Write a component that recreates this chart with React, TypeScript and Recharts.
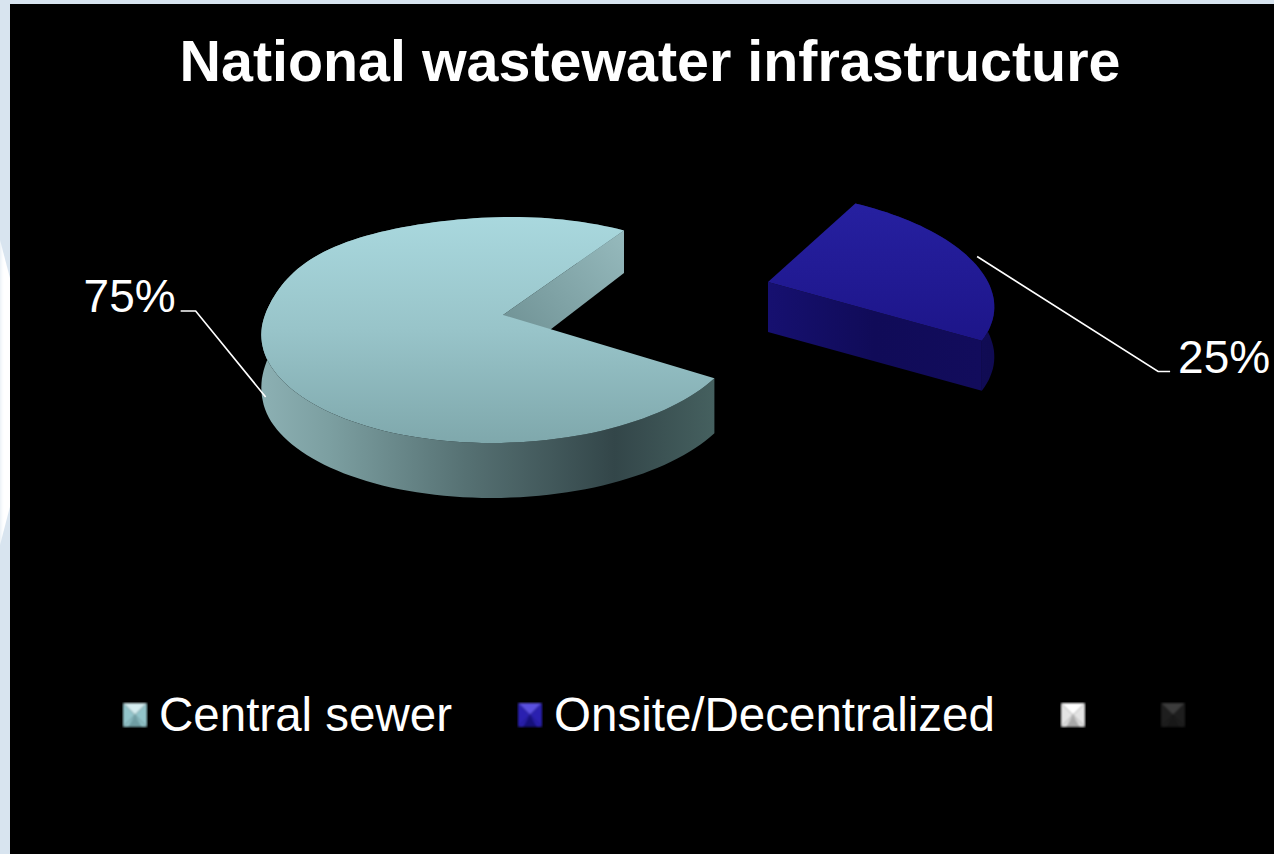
import React from "react";
import { PieChart, Pie, Cell, Legend } from "recharts";

const categories = ["Central sewer", "Onsite/Decentralized", "", ""];
const shares = [75, 25, 0, 0];
const chartData = categories.map((name, i) => ({ name, value: shares[i] }));

// Styling, one entry per category
const legendTones = [
  { top: "#d4ecef", side: "#93c5cb", bottom: "#6f9da3" },
  { top: "#5a50e0", side: "#2a20b0", bottom: "#15107a" },
  { top: "#ffffff", side: "#e4e4e4", bottom: "#a8a8a8" },
  { top: "#3c3c3c", side: "#1e1e1e", bottom: "#181818" },
];
const sliceFills = ["#a0ccd2", "#221a9a", "#ffffff", "#333333"];

// 3D projection of each exploded slice
const projections = [
  { dx: 0, dy: 0, ax: 1, by: 111, skew: -10, bulge: 12, depth: 51, depthTilt: 10, depthMax: 55, top: "url(#topA)", side: "url(#sideA)", wall: "url(#wallA)" },
  { dx: 265, dy: -33, ax: 220 / 238, by: 103, skew: 23, bulge: 0, depth: 50, depthTilt: 0, depthMax: 50, top: "url(#topB)", side: "url(#sideB)", wall: "url(#wallB)" },
];
const PERSPECTIVE = 0.1327;

const leaders = [
  { attach: [4, 3], useDepth: true, elbow: [-70, -86], end: [-85, -86], text: [-90, -85], anchor: "end" },
  { attach: [6, -3], useDepth: false, elbow: [181, 115], end: [193, 115], text: [201, 116], anchor: "start" },
];

type Pt = [number, number];

function rimPoint(cx: number, cy: number, r: number, angle: number, k: number): Pt {
  const p = projections[k];
  const t = (angle * Math.PI) / 180;
  const u = Math.cos(t);
  const v = Math.sin(t);
  const f = 1 / (1 + PERSPECTIVE * v);
  const norm = ((angle % 360) + 360) % 360;
  const bulge = norm > 90 && norm < 180 ? p.bulge * Math.pow(Math.sin(2 * (t - Math.PI / 2)), 2) : 0;
  return [cx + p.dx + (r * p.ax * u - p.skew * v) * f - bulge, cy + p.dy - p.by * v * f];
}

function depthAt(angle: number | null, k: number): number {
  const p = projections[k];
  if (angle === null) return p.depth;
  const v = Math.sin((angle * Math.PI) / 180);
  return Math.min(p.depthMax, p.depth - p.depthTilt * v);
}

const toPath = (pts: Pt[]) => "M" + pts.map((q) => `${q[0].toFixed(1)},${q[1].toFixed(1)}`).join("L") + "Z";

function Slice3D(props: any) {
  const { cx, cy, outerRadius, startAngle, endAngle, index } = props;
  if (startAngle === endAngle || index > 1) return <g />;
  const p = projections[index];
  const apex: Pt = [cx + p.dx, cy + p.dy];
  const arc: number[] = [];
  const step = endAngle > startAngle ? 2 : -2;
  for (let a = startAngle; step > 0 ? a < endAngle : a > endAngle; a += step) arc.push(a);
  arc.push(endAngle);
  const rim = arc.map((a) => rimPoint(cx, cy, outerRadius, a, index));
  const rimLow = arc.map((a, i) => [rim[i][0], rim[i][1] + depthAt(a, index)] as Pt);
  const apexLow: Pt = [apex[0], apex[1] + depthAt(null, index)];
  return (
    <g style={{ filter: "blur(0.7px)" }}>
      <path d={toPath([...rim, ...[...rimLow].reverse()])} fill={p.side} />
      <path d={toPath([apex, rim[0], rimLow[0], apexLow])} fill={p.wall} />
      <path d={toPath([apex, ...rim])} fill={p.top} />
    </g>
  );
}

function SliceLabel(props: any) {
  const { cx, cy, outerRadius, midAngle, index, value } = props;
  if (!value || index > 1) return null;
  const l = leaders[index];
  const r = rimPoint(cx, cy, outerRadius, midAngle, index);
  const a: Pt = [r[0] + l.attach[0], r[1] + l.attach[1] + (l.useDepth ? depthAt(midAngle, index) : 0)];
  return (
    <g>
      <polyline
        points={`${a[0]},${a[1]} ${a[0] + l.elbow[0]},${a[1] + l.elbow[1]} ${a[0] + l.end[0]},${a[1] + l.end[1]}`}
        fill="none"
        stroke="#ffffff"
        strokeWidth={1.6}
      />
      <text
        x={a[0] + l.text[0]}
        y={a[1] + l.text[1]}
        textAnchor={l.anchor as any}
        fill="#ffffff"
        fontFamily="Liberation Sans"
        fontSize={46}
      >
        {`${value}%`}
      </text>
    </g>
  );
}

function LegendMark({ tone }: { tone: (typeof legendTones)[number] }) {
  return (
    <svg width={26} height={26} style={{ display: "block", flex: "none" }}>
      <g style={{ filter: "blur(0.8px)" }}>
        <polygon points="1,1 25,1 13,13" fill={tone.top} />
        <polygon points="1,1 13,13 1,25" fill={tone.side} />
        <polygon points="25,1 13,13 25,25" fill={tone.side} />
        <polygon points="1,25 13,13 25,25" fill={tone.side} />
        <polygon points="6,25 13,13 20,25" fill={tone.bottom} />
      </g>
    </svg>
  );
}

function LegendRow({ payload }: any) {
  return (
    <div style={{ display: "flex", alignItems: "center", gap: 65, whiteSpace: "nowrap" }}>
      {(payload || []).map((item: any, i: number) => (
        <div key={i} style={{ display: "flex", alignItems: "center", gap: item.value ? 11 : 9 }}>
          <LegendMark tone={legendTones[i]} />
          <span style={{ color: "#ffffff", fontFamily: "Liberation Sans", fontSize: 47.5, lineHeight: "54px" }}>
            {item.value}
          </span>
        </div>
      ))}
    </div>
  );
}

export default function App() {
  return (
    <div style={{ position: "fixed", left: 0, top: 0, width: 1274, height: 854, overflow: "hidden", background: "#d8e4ef" }}>
      <div
        style={{
          position: "absolute",
          left: 0,
          top: 230,
          width: 40,
          height: 325,
          background: "#ffffff",
          clipPath: "polygon(0 10px, 100% 162px, 0 315px)",
          filter: "blur(2px)",
        }}
      />
      <div style={{ position: "absolute", left: 10, top: 4, right: 0, bottom: 0, background: "#000000" }} />
      <div style={{ position: "absolute", left: 0, top: 0 }}>
        <PieChart width={1274} height={854} margin={{ top: 0, right: 0, bottom: 0, left: 0 }}>
          <defs>
            <linearGradient id="topA" x1="0" y1="0" x2="0" y2="1">
              <stop offset="0" stopColor="#a9d8de" />
              <stop offset="0.5" stopColor="#98c4c9" />
              <stop offset="1" stopColor="#7fa8ac" />
            </linearGradient>
            <linearGradient id="sideA" x1="0" y1="0" x2="1" y2="0">
              <stop offset="0" stopColor="#8cb0b3" />
              <stop offset="0.15" stopColor="#7c9fa1" />
              <stop offset="0.45" stopColor="#567173" />
              <stop offset="0.78" stopColor="#334649" />
              <stop offset="1" stopColor="#45605f" />
            </linearGradient>
            <linearGradient id="wallA" x1="1" y1="0" x2="0" y2="1">
              <stop offset="0" stopColor="#96babd" />
              <stop offset="1" stopColor="#6a8c8f" />
            </linearGradient>
            <linearGradient id="topB" x1="0" y1="0" x2="0" y2="1">
              <stop offset="0" stopColor="#2620a0" />
              <stop offset="1" stopColor="#1d1589" />
            </linearGradient>
            <linearGradient id="sideB" x1="0" y1="0" x2="1" y2="0">
              <stop offset="0" stopColor="#15106c" />
              <stop offset="1" stopColor="#100b52" />
            </linearGradient>
            <linearGradient id="wallB" x1="0" y1="0" x2="1" y2="0">
              <stop offset="0" stopColor="#161070" />
              <stop offset="0.5" stopColor="#100b58" />
              <stop offset="1" stopColor="#120c5c" />
            </linearGradient>
          </defs>
          <text
            x={650}
            y={81}
            textAnchor="middle"
            fill="#ffffff"
            fontFamily="Liberation Sans"
            fontWeight="bold"
            fontSize={57.4}
          >
            National wastewater infrastructure
          </text>
          <Pie
            data={chartData}
            dataKey="value"
            nameKey="name"
            cx={503}
            cy={315}
            outerRadius={238}
            startAngle={58}
            endAngle={418}
            stroke="none"
            shape={Slice3D}
            label={SliceLabel}
            labelLine={false}
            isAnimationActive={false}
          >
            {chartData.map((_, i) => (
              <Cell key={i} fill={sliceFills[i]} />
            ))}
          </Pie>
          <Legend
            content={LegendRow}
            itemSorter={null}
            layout="horizontal"
            wrapperStyle={{ position: "absolute", left: 122, top: 688, width: "auto" }}
          />
        </PieChart>
      </div>
    </div>
  );
}
